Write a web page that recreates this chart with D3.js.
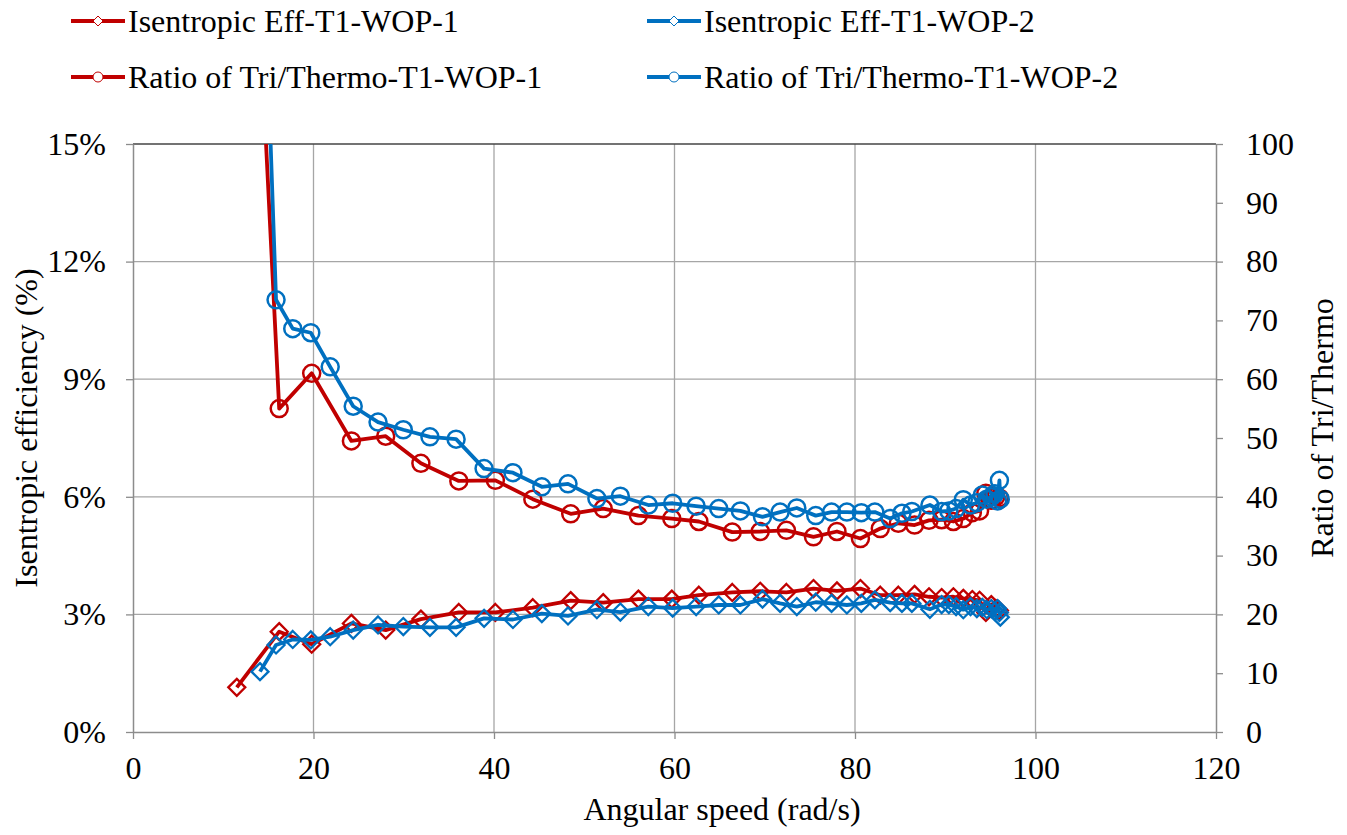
<!DOCTYPE html>
<html>
<head>
<meta charset="utf-8">
<script src="https://cdn.jsdelivr.net/npm/d3@7"></script>
<style>
  html, body { margin: 0; padding: 0; background: #fff; }
  svg text { font-family: "Liberation Serif", "Times New Roman", serif; fill: #000; }
</style>
</head>
<body>
<svg id="chart" width="1347" height="835"></svg>
<script>
// Angular speed (rad/s) for each test series
const speedWOP1 = [11.5, 16.2, 19.8, 24.2, 28.0, 31.9, 36.1, 40.15, 44.3, 48.5, 52.1, 56.0, 59.7, 62.7,
  66.4, 69.5, 72.4, 75.4, 78.0, 80.6, 82.8, 84.8, 86.6, 88.2, 89.6, 90.9, 92.0, 93.0, 93.8, 94.5, 95.1, 95.6, 96.0];
const speedWOP2 = [14.07, 15.85, 17.7, 19.7, 21.85, 24.4, 27.15, 29.95, 32.9, 35.8, 38.9, 42.1, 45.3, 48.2,
  51.4, 54.0, 57.1, 59.8, 62.4, 64.9, 67.3, 69.75, 71.7, 73.55, 75.65, 77.4, 79.1, 80.7, 82.2, 83.9, 85.2,
  86.3, 88.3, 89.6, 90.4, 91.2, 92.0, 92.8, 93.5, 94.1, 94.6, 95.1, 95.5, 95.8, 96.0, 96.1];

// Isentropic efficiency (%)
const effWOP1 = [1.14, 2.56, 2.24, 2.77, 2.60, 2.88, 3.05, 3.05, 3.17, 3.35, 3.30, 3.39, 3.39, 3.49,
  3.56, 3.59, 3.56, 3.66, 3.60, 3.66, 3.49, 3.49, 3.51, 3.45, 3.43, 3.45, 3.41, 3.38, 3.36, 3.05, 3.25, 3.15, 3.10];
const effWOP2 = [1.54, 2.22, 2.36, 2.35, 2.43, 2.60, 2.73, 2.69, 2.67, 2.67, 2.90, 2.87, 3.02, 2.96,
  3.12, 3.06, 3.20, 3.16, 3.20, 3.24, 3.24, 3.39, 3.28, 3.20, 3.31, 3.28, 3.24, 3.28, 3.37, 3.30, 3.28,
  3.28, 3.13, 3.25, 3.25, 3.20, 3.12, 3.20, 3.15, 3.18, 3.12, 3.15, 3.08, 3.15, 3.05, 2.93];

// Ratio of Tri/Thermo
const ratioWOP1 = [200, 55.0, 61.0, 49.5, 50.3, 45.7, 42.7, 42.8, 39.6, 37.1, 38.0, 36.8, 36.3, 35.8,
  34.0, 34.1, 34.3, 33.2, 34.1, 32.9, 34.6, 35.5, 35.2, 36.0, 36.1, 35.8, 36.3, 37.3, 37.6, 40.6, 39.4, 40.0, 39.8];
const ratioWOP2 = [152, 73.5, 68.6, 67.9, 62.1, 55.4, 52.7, 51.4, 50.2, 49.8, 44.8, 44.1, 41.7, 42.2,
  39.7, 40.1, 38.6, 38.9, 38.4, 38.0, 37.6, 36.6, 37.4, 38.1, 36.8, 37.4, 37.4, 37.3, 37.4, 36.3, 37.2,
  37.5, 38.6, 37.5, 37.6, 38.0, 39.5, 38.6, 39.0, 40.3, 39.6, 40.0, 40.5, 39.3, 42.8, 39.6];

const xTicks = [0, 20, 40, 60, 80, 100, 120];
const yLeftTicks = [0, 3, 6, 9, 12, 15];
const yRightTicks = [0, 10, 20, 30, 40, 50, 60, 70, 80, 90, 100];

const legendLabels = ["Isentropic Eff-T1-WOP-1", "Isentropic Eff-T1-WOP-2",
  "Ratio of Tri/Thermo-T1-WOP-1", "Ratio of Tri/Thermo-T1-WOP-2"];

const RED = "#c00000", BLUE = "#0070c0";
const FONT = "32px";
const plot = { left: 133, right: 1216, top: 144, bottom: 732 };

const svg = d3.select("#chart");

const x = d3.scaleLinear().domain([0, 120]).range([plot.left, plot.right]);
const yL = d3.scaleLinear().domain([0, 15]).range([plot.bottom, plot.top]);
const yR = d3.scaleLinear().domain([0, 100]).range([plot.bottom, plot.top]);

svg.append("defs").append("clipPath").attr("id", "plotClip")
  .append("rect")
  .attr("x", plot.left - 12).attr("y", plot.top)
  .attr("width", plot.right - plot.left + 24).attr("height", plot.bottom - plot.top + 12);

// Gridlines
const grid = svg.append("g");
grid.selectAll("line.h").data(yLeftTicks.filter(d => d > 0 && d < 15)).join("line")
  .attr("x1", plot.left).attr("x2", plot.right)
  .attr("y1", d => yL(d)).attr("y2", d => yL(d))
  .attr("stroke", "#a6a6a6").attr("stroke-width", 1.3);
grid.selectAll("line.v").data(xTicks.filter(d => d > 0 && d < 120)).join("line")
  .attr("x1", d => x(d)).attr("x2", d => x(d))
  .attr("y1", plot.top).attr("y2", plot.bottom)
  .attr("stroke", "#a6a6a6").attr("stroke-width", 1.3);
grid.append("line")
  .attr("x1", plot.left).attr("x2", plot.right)
  .attr("y1", yL(15)).attr("y2", yL(15))
  .attr("stroke", "#444").attr("stroke-width", 1.6);

// Axes
const axisStyle = g => {
  g.selectAll("path.domain").attr("stroke", "#8c8c8c").attr("stroke-width", 1.5);
  g.selectAll(".tick line").attr("stroke", "#8c8c8c").attr("stroke-width", 1.3);
  g.selectAll(".tick text").style("font-size", FONT).attr("fill", "#000");
};

svg.append("g").attr("transform", `translate(0,${plot.bottom})`)
  .call(d3.axisBottom(x).tickValues(xTicks).tickSize(7).tickSizeOuter(0).tickPadding(17))
  .call(axisStyle);

svg.append("g").attr("transform", `translate(${plot.left},0)`)
  .call(d3.axisLeft(yL).tickValues(yLeftTicks).tickFormat(d => d + "%").tickSize(7).tickSizeOuter(0).tickPadding(20))
  .call(axisStyle);

svg.append("g").attr("transform", `translate(${plot.right},0)`)
  .call(d3.axisRight(yR).tickValues(yRightTicks).tickSize(7).tickSizeOuter(0).tickPadding(23))
  .call(axisStyle);

// Axis titles
svg.append("text").attr("x", 722).attr("y", 820)
  .attr("text-anchor", "middle").style("font-size", FONT).text("Angular speed (rad/s)");
svg.append("text").attr("transform", `translate(37,428) rotate(-90)`)
  .attr("text-anchor", "middle").style("font-size", FONT).text("Isentropic efficiency (%)");
svg.append("text").attr("transform", `translate(1333,428) rotate(-90)`)
  .attr("text-anchor", "middle").style("font-size", FONT).text("Ratio of Tri/Thermo");

// Series
const diamond = r => `M0,${-r}L${r},0L0,${r}L${-r},0Z`;

const series = [
  { xs: speedWOP1, ys: effWOP1, y: yL, color: RED, marker: "diamond" },
  { xs: speedWOP2, ys: effWOP2, y: yL, color: BLUE, marker: "diamond" },
  { xs: speedWOP1, ys: ratioWOP1, y: yR, color: RED, marker: "circle" },
  { xs: speedWOP2, ys: ratioWOP2, y: yR, color: BLUE, marker: "circle" }
];

const plotG = svg.append("g").attr("clip-path", "url(#plotClip)");
const lineGen = d3.line();

series.forEach(s => {
  const pts = s.xs.map((v, i) => [x(v), s.y(s.ys[i])]);
  const g = plotG.append("g");
  g.append("path").attr("d", lineGen(pts))
    .attr("fill", "none").attr("stroke", s.color).attr("stroke-width", 3.8)
    .attr("stroke-linejoin", "round");
  if (s.marker === "diamond") {
    g.selectAll("path.m").data(pts).join("path")
      .attr("transform", d => `translate(${d[0]},${d[1]})`)
      .attr("d", diamond(8.5))
      .attr("fill", "none").attr("stroke", s.color).attr("stroke-width", 2.3);
  } else {
    g.selectAll("circle").data(pts).join("circle")
      .attr("cx", d => d[0]).attr("cy", d => d[1]).attr("r", 8.5)
      .attr("fill", "none").attr("stroke", s.color).attr("stroke-width", 2.5);
  }
});

// Legend
const legendPos = [
  { x: 71, y: 21, color: RED, marker: "diamond" },
  { x: 647, y: 21, color: BLUE, marker: "diamond" },
  { x: 71, y: 77, color: RED, marker: "circle" },
  { x: 647, y: 77, color: BLUE, marker: "circle" }
];
const legend = svg.append("g");
legendPos.forEach((p, i) => {
  const g = legend.append("g").attr("transform", `translate(${p.x},${p.y})`);
  g.append("line").attr("x1", 0).attr("x2", 54).attr("y1", 0).attr("y2", 0)
    .attr("stroke", p.color).attr("stroke-width", 3.8);
  if (p.marker === "diamond") {
    g.append("path").attr("transform", "translate(27,0)").attr("d", diamond(5))
      .attr("fill", "#fff").attr("stroke", p.color).attr("stroke-width", 1);
  } else {
    g.append("circle").attr("cx", 27).attr("cy", 0).attr("r", 5)
      .attr("fill", "#fff").attr("stroke", p.color).attr("stroke-width", 1);
  }
  g.append("text").attr("x", 57).attr("y", 0).attr("dy", "0.35em")
    .style("font-size", FONT).text(legendLabels[i]);
});
</script>
</body>
</html>
